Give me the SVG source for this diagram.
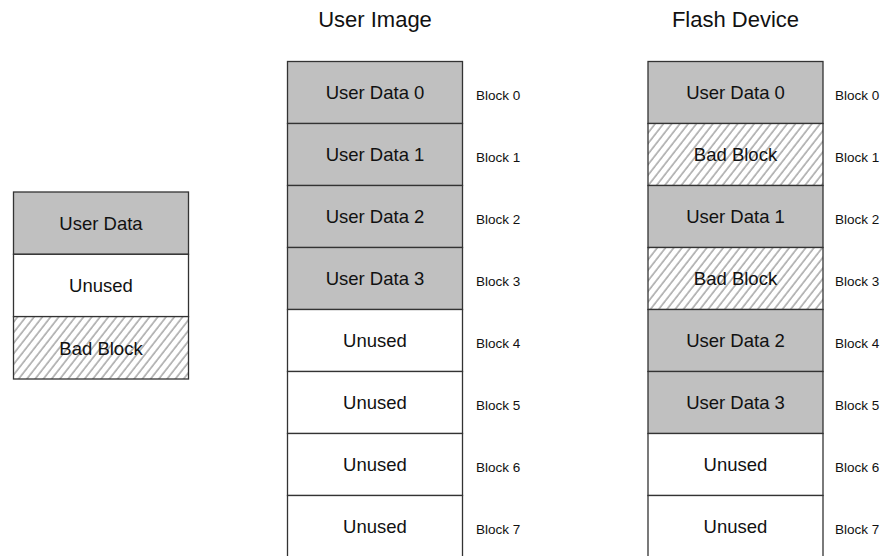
<svg xmlns="http://www.w3.org/2000/svg" width="887" height="556" viewBox="0 0 887 556">
<style>
.cell{stroke:#333;stroke-width:1.3}
.used{fill:#c0c0c0}
.unused{fill:#ffffff}
.bad{fill:url(#hatch)}
.t{font-family:"Liberation Sans",Arial,sans-serif;font-size:18.5px;fill:#111;text-anchor:middle}
.b{font-family:"Liberation Sans",Arial,sans-serif;font-size:13.5px;fill:#111}
.h{font-family:"Liberation Sans",Arial,sans-serif;font-size:22px;fill:#111;text-anchor:middle}
</style>
<defs>
<pattern id="hatch" patternUnits="userSpaceOnUse" width="6.5" height="6.5" patternTransform="rotate(38)">
<rect width="6.5" height="6.5" fill="#fff"/>
<line x1="1" y1="0" x2="1" y2="6.5" stroke="#8f8f8f" stroke-width="1.2"/>
</pattern>
</defs>
<rect width="887" height="556" fill="#fff"/>
<g id="titles">
<text class="h" x="375" y="27">User Image</text>
<text class="h" x="735.5" y="27">Flash Device</text>
</g>
<g id="legend">
<g id="legend-user-data"><rect class="cell used" x="13.5" y="192" width="175" height="62.3"/><text class="t" x="101" y="230">User Data</text></g>
<g id="legend-unused"><rect class="cell unused" x="13.5" y="254.3" width="175" height="62.3"/><text class="t" x="101" y="292">Unused</text></g>
<g id="legend-bad"><rect class="cell bad" x="13.5" y="316.6" width="175" height="62.4"/><text class="t" x="101" y="354.5">Bad Block</text></g>
</g>
<g id="user-image">
<g id="ui-0"><rect class="cell used" x="287.5" y="61.5" width="175" height="62"/><text class="t" x="375" y="99">User Data 0</text><text class="b" x="476" y="100">Block 0</text></g>
<g id="ui-1"><rect class="cell used" x="287.5" y="123.5" width="175" height="62"/><text class="t" x="375" y="161">User Data 1</text><text class="b" x="476" y="162">Block 1</text></g>
<g id="ui-2"><rect class="cell used" x="287.5" y="185.5" width="175" height="62"/><text class="t" x="375" y="223">User Data 2</text><text class="b" x="476" y="224">Block 2</text></g>
<g id="ui-3"><rect class="cell used" x="287.5" y="247.5" width="175" height="62"/><text class="t" x="375" y="285">User Data 3</text><text class="b" x="476" y="286">Block 3</text></g>
<g id="ui-4"><rect class="cell unused" x="287.5" y="309.5" width="175" height="62"/><text class="t" x="375" y="347">Unused</text><text class="b" x="476" y="348">Block 4</text></g>
<g id="ui-5"><rect class="cell unused" x="287.5" y="371.5" width="175" height="62"/><text class="t" x="375" y="409">Unused</text><text class="b" x="476" y="410">Block 5</text></g>
<g id="ui-6"><rect class="cell unused" x="287.5" y="433.5" width="175" height="62"/><text class="t" x="375" y="471">Unused</text><text class="b" x="476" y="472">Block 6</text></g>
<g id="ui-7"><rect class="cell unused" x="287.5" y="495.5" width="175" height="62"/><text class="t" x="375" y="533">Unused</text><text class="b" x="476" y="534">Block 7</text></g>
</g>
<g id="flash-device">
<g id="fd-0"><rect class="cell used" x="648" y="61.5" width="175" height="62"/><text class="t" x="735.5" y="99">User Data 0</text><text class="b" x="835" y="100">Block 0</text></g>
<g id="fd-1"><rect class="cell bad" x="648" y="123.5" width="175" height="62"/><text class="t" x="735.5" y="161">Bad Block</text><text class="b" x="835" y="162">Block 1</text></g>
<g id="fd-2"><rect class="cell used" x="648" y="185.5" width="175" height="62"/><text class="t" x="735.5" y="223">User Data 1</text><text class="b" x="835" y="224">Block 2</text></g>
<g id="fd-3"><rect class="cell bad" x="648" y="247.5" width="175" height="62"/><text class="t" x="735.5" y="285">Bad Block</text><text class="b" x="835" y="286">Block 3</text></g>
<g id="fd-4"><rect class="cell used" x="648" y="309.5" width="175" height="62"/><text class="t" x="735.5" y="347">User Data 2</text><text class="b" x="835" y="348">Block 4</text></g>
<g id="fd-5"><rect class="cell used" x="648" y="371.5" width="175" height="62"/><text class="t" x="735.5" y="409">User Data 3</text><text class="b" x="835" y="410">Block 5</text></g>
<g id="fd-6"><rect class="cell unused" x="648" y="433.5" width="175" height="62"/><text class="t" x="735.5" y="471">Unused</text><text class="b" x="835" y="472">Block 6</text></g>
<g id="fd-7"><rect class="cell unused" x="648" y="495.5" width="175" height="62"/><text class="t" x="735.5" y="533">Unused</text><text class="b" x="835" y="534">Block 7</text></g>
</g>
<g id="connectors"/>
</svg>
